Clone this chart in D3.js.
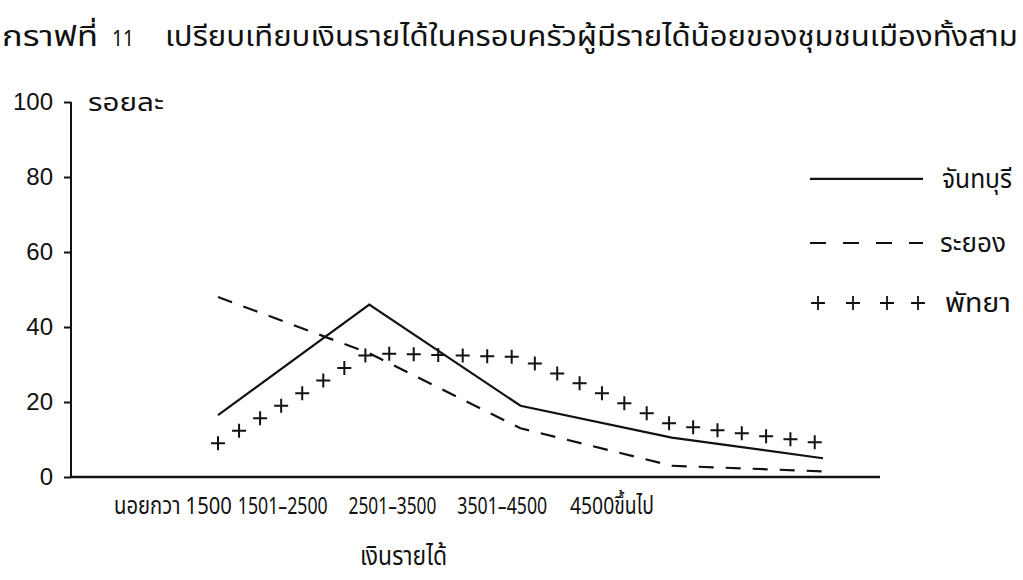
<!DOCTYPE html>
<html>
<head>
<meta charset="utf-8">
<script src="https://cdn.jsdelivr.net/npm/d3@7"></script>
<style>
  body { margin: 0; background: #fff; overflow: hidden; }
  svg text { font-family: "Noto Sans Thai", "Noto Sans", "DejaVu Sans", sans-serif; fill: #111; }
</style>
</head>
<body>
<div id="canvas"></div>
<script>
// chart data
var categories = ["นอยกวา 1500", "1501–2500", "2501–3500", "3501–4500", "4500ขึ้นไป"];
var chanthaburi = [16.5, 46, 19, 10.5, 5];
var rayong = [48, 33, 13, 3, 1.5];
var pattaya = [9, 33, 32, 14, 9];
var yTicks = [0, 20, 40, 60, 80, 100];
var seriesNames = ["จันทบุรี", "ระยอง", "พัทยา"];

var w = 1023, h = 580;

var svg = d3.select("#canvas")
    .append("svg")
    .attr("width", w)
    .attr("height", h);

// scales
var y_scale = d3.scaleLinear().domain([0, 100]).range([477, 102]);
var x_scale = d3.scalePoint().domain(categories).range([218, 823]);
// the typed labels sit further left than the plotted points on the original
var label_scale = d3.scalePoint().domain(categories).range([173, 612]);
var labelWidth = [118, 90, 88, 90, 84];

// fit a text horizontally into a width (the typewriter face is narrow)
function squeeze(sel, x, y, width) {
    sel.each(function(d, i) {
        var t = d3.select(this);
        var xx = typeof x === "function" ? x(d, i) : x;
        var ww = typeof width === "function" ? width(d, i) : width;
        var k = ww / this.getComputedTextLength();
        t.attr("x", 0).attr("y", 0)
         .attr("transform", "translate(" + xx + "," + y + ") scale(" + k + ",1)");
    });
}

// title
svg.append("text")
    .attr("font-size", 28)
    .text("กราฟที่")
    .call(squeeze, 2, 46, 96);
svg.append("text")
    .attr("font-size", 22)
    .text("11")
    .call(squeeze, 112, 46, 22);
svg.append("text")
    .attr("font-size", 28)
    .text("เปรียบเทียบเงินรายได้ในครอบครัวผู้มีรายได้น้อยของชุมชนเมืองทั้งสาม")
    .call(squeeze, 165, 46, 853);

// y axis
var yAxis = svg.append("g")
    .attr("transform", "translate(71,0)")
    .call(d3.axisLeft(y_scale).tickValues(yTicks).tickSize(7).tickPadding(11));
yAxis.selectAll("text").attr("font-size", 24).style("font-family", "inherit");
yAxis.selectAll("path, line").attr("stroke", "#111").attr("stroke-width", 2);
yAxis.select(".domain").attr("d", "M0," + y_scale(100) + "V" + y_scale(0));

svg.append("text")
    .attr("font-size", 25)
    .text("รอยละ")
    .call(squeeze, 88, 111, 76);

// x axis line
svg.append("line")
    .attr("x1", 71).attr("x2", 880)
    .attr("y1", y_scale(0)).attr("y2", y_scale(0))
    .attr("stroke", "#111").attr("stroke-width", 2.5);

svg.selectAll(".cat")
    .data(categories)
    .join("text")
    .attr("class", "cat")
    .attr("font-size", 24)
    .text(d => d)
    .call(squeeze, (d, i) => label_scale(d) - labelWidth[i] / 2, 514, (d, i) => labelWidth[i]);

svg.append("text")
    .attr("font-size", 27)
    .text("เงินรายได้")
    .call(squeeze, 360, 565, 87);

// lines
var line = d3.line()
    .x((d, i) => x_scale(categories[i]))
    .y(d => y_scale(d));

svg.append("path")
    .attr("d", line(chanthaburi))
    .attr("fill", "none").attr("stroke", "#111").attr("stroke-width", 2.2);

svg.append("path")
    .attr("d", line(rayong))
    .attr("fill", "none").attr("stroke", "#111").attr("stroke-width", 2.2)
    .attr("stroke-dasharray", "15,12");

// pattaya drawn as a row of plus signs along its path
var pPath = svg.append("path")
    .attr("d", line(pattaya))
    .attr("fill", "none").attr("stroke", "none");
var len = pPath.node().getTotalLength();
var plusPts = d3.range(0, len + 1, 24.5).map(l => pPath.node().getPointAtLength(l));

function plus(s) {
    return "M" + (-s) + ",0H" + s + "M0," + (-s) + "V" + s;
}
svg.selectAll(".plus")
    .data(plusPts)
    .join("path")
    .attr("class", "plus")
    .attr("transform", d => "translate(" + d.x + "," + d.y + ")")
    .attr("d", plus(7))
    .attr("stroke", "#111").attr("stroke-width", 2).attr("fill", "none");

// legend
var legY = [79.5, 62.4, 46.4];
var leg = svg.selectAll(".leg")
    .data(seriesNames)
    .join("g")
    .attr("class", "leg")
    .attr("transform", (d, i) => "translate(0," + y_scale(legY[i]) + ")");

leg.filter((d, i) => i < 2).append("line")
    .attr("x1", 810).attr("x2", 923)
    .attr("stroke", "#111").attr("stroke-width", 2.2)
    .attr("stroke-dasharray", (d, i) => i === 1 ? "16,17" : null);

leg.filter((d, i) => i === 2).selectAll("path")
    .data([818, 853, 887, 918])
    .join("path")
    .attr("transform", d => "translate(" + d + ",0)")
    .attr("d", plus(7))
    .attr("stroke", "#111").attr("stroke-width", 1.8);

leg.append("text")
    .attr("font-size", 26)
    .text(d => d)
    .call(squeeze, (d, i) => [942, 940, 945][i], 9, (d, i) => [70, 66, 66][i]);
</script>
</body>
</html>
